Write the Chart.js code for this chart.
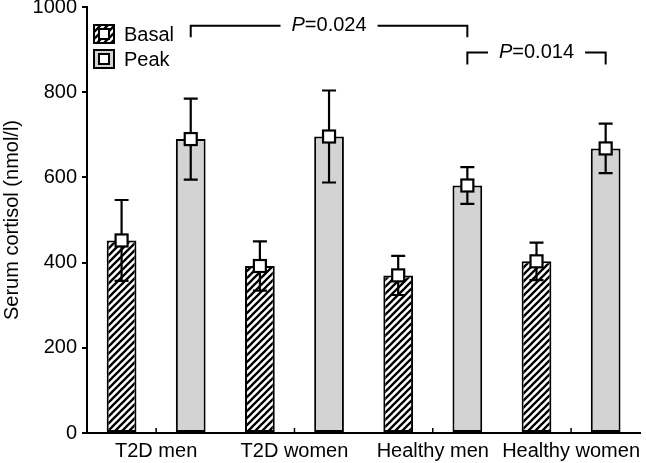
<!DOCTYPE html>
<html lang="en">
<head>
<meta charset="UTF-8" />
<title>Serum cortisol</title>
<script src="https://cdn.jsdelivr.net/npm/chart.js"></script>
<style>
  body { margin: 0; background: #fff; }
  #wrap { width: 646px; height: 463px; }
</style>
</head>
<body>
<div id="wrap"><canvas id="chart"></canvas></div>
<script>
const groups = ['T2D men', 'T2D women', 'Healthy men', 'Healthy women'];
const basalMean = [452, 392, 370, 403];
const basalErr = [95, 58, 46, 44];
const peakMean = [690, 696, 581, 668];
const peakErr = [95, 108, 43, 58];
const yTicks = [0, 200, 400, 600, 800, 1000];
// significance brackets between peak bars (dataset 1), by group index
const bracketFrom = [0, 2];
const bracketTo = [2, 3];
const bracketP = ['0.024', '0.014'];
const bracketLevel = [956, 893];
const bracketLow = [929, 865];

const FONT = '"Liberation Sans", Arial, Helvetica, sans-serif';
const canvas = document.getElementById('chart');
const ctx = canvas.getContext('2d');

// diagonal hatch for the basal bars
function hatch() {
  const s = 7;
  const c = document.createElement('canvas');
  c.width = s; c.height = s;
  const g = c.getContext('2d');
  g.fillStyle = '#fff'; g.fillRect(0, 0, s, s);
  g.strokeStyle = '#000'; g.lineWidth = 2.3;
  g.beginPath();
  g.moveTo(-2, s + 2); g.lineTo(s + 2, -2);
  g.moveTo(-2, 2); g.lineTo(2, -2);
  g.moveTo(s - 2, s + 2); g.lineTo(s + 2, s - 2);
  g.stroke();
  return ctx.createPattern(c, 'repeat');
}
const hatchFill = hatch();
const peakGrey = '#d3d3d3';

function marker(g, x, y) {
  g.fillStyle = '#fff';
  g.strokeStyle = '#000';
  g.lineWidth = 2.2;
  g.fillRect(x - 6, y - 6, 12, 12);
  g.strokeRect(x - 6, y - 6, 12, 12);
}

const extras = {
  id: 'extras',
  afterDatasetsDraw(chart) {
    const g = chart.ctx;
    const y = chart.scales.y;
    const x = chart.scales.x;
    const area = chart.chartArea;
    g.save();
    // small inward ticks on the category axis
    g.strokeStyle = '#000'; g.lineWidth = 1.5;
    groups.forEach((_, i) => {
      const px = x.getPixelForValue(i);
      g.beginPath(); g.moveTo(px, area.bottom); g.lineTo(px, area.bottom - 5); g.stroke();
    });
    // error bars and square markers
    const sets = [[basalMean, basalErr], [peakMean, peakErr]];
    sets.forEach(([mean, err], d) => {
      const meta = chart.getDatasetMeta(d);
      meta.data.forEach((bar, i) => {
        const top = y.getPixelForValue(mean[i] + err[i]);
        const bot = y.getPixelForValue(mean[i] - err[i]);
        g.strokeStyle = '#000'; g.lineWidth = 2.2;
        g.beginPath();
        g.moveTo(bar.x, top); g.lineTo(bar.x, bot);
        g.moveTo(bar.x - 7, top); g.lineTo(bar.x + 7, top);
        g.moveTo(bar.x - 7, bot); g.lineTo(bar.x + 7, bot);
        g.stroke();
        marker(g, bar.x, y.getPixelForValue(mean[i]));
      });
    });
    // significance brackets
    const peakMeta = chart.getDatasetMeta(1);
    bracketP.forEach((p, k) => {
      const x1 = peakMeta.data[bracketFrom[k]].x;
      const x2 = peakMeta.data[bracketTo[k]].x;
      const yl = y.getPixelForValue(bracketLevel[k]);
      const yd = y.getPixelForValue(bracketLow[k]);
      g.font = 'italic 20px ' + FONT;
      const wP = g.measureText('P').width;
      g.font = '20px ' + FONT;
      const wR = g.measureText('=' + p).width;
      const w = wP + wR;
      const cx = (x1 + x2) / 2;
      const gap = 11;
      g.strokeStyle = '#000'; g.lineWidth = 2;
      g.beginPath();
      g.moveTo(x1, yd); g.lineTo(x1, yl); g.lineTo(cx - w / 2 - gap, yl);
      g.moveTo(cx + w / 2 + gap, yl); g.lineTo(x2, yl); g.lineTo(x2, yd);
      g.stroke();
      g.fillStyle = '#000';
      g.textBaseline = 'middle'; g.textAlign = 'left';
      g.font = 'italic 20px ' + FONT;
      g.fillText('P', cx - w / 2, yl);
      g.font = '20px ' + FONT;
      g.fillText('=' + p, cx - w / 2 + wP, yl);
    });
    // legend
    const lx = area.left + 7, ly = area.top + 18;
    [['Basal', hatchFill], ['Peak', peakGrey]].forEach(([name, fill], k) => {
      const by = ly + k * 25;
      g.fillStyle = fill;
      g.fillRect(lx, by, 20, 18);
      g.strokeStyle = '#000'; g.lineWidth = 2;
      g.strokeRect(lx, by, 20, 18);
      g.fillStyle = '#fff';
      g.fillRect(lx + 5, by + 4, 10, 10);
      g.strokeRect(lx + 5, by + 4, 10, 10);
      g.fillStyle = '#000';
      g.font = '20px ' + FONT;
      g.textBaseline = 'middle';
      g.fillText(name, lx + 30, by + 10);
    });
    g.restore();
  }
};

new Chart(ctx, {
  type: 'bar',
  data: {
    labels: groups,
    datasets: [
      { label: 'Basal', data: basalMean, backgroundColor: hatchFill, borderColor: '#000', borderWidth: 2, borderSkipped: false },
      { label: 'Peak', data: peakMean, backgroundColor: peakGrey, borderColor: '#000', borderWidth: 2, borderSkipped: false }
    ]
  },
  options: {
    responsive: true,
    maintainAspectRatio: false,
    animation: false,
    datasets: { bar: { categoryPercentage: 1.0, barPercentage: 0.43 } },
    layout: { padding: 0 },
    plugins: { legend: { display: false }, tooltip: { enabled: false } },
    scales: {
      x: {
        afterFit: s => { s.height = 30; },
        grid: { display: false, drawTicks: false },
        border: { color: '#000', width: 2 },
        ticks: { color: '#000', padding: 6, maxRotation: 0, minRotation: 0, autoSkip: false, font: { family: FONT, size: 20 } }
      },
      y: {
        min: 0, max: 1000,
        afterBuildTicks: s => { s.ticks = yTicks.map(v => ({ value: v })); },
        afterFit: s => { s.width = 87; s.paddingTop = 7; },
        grid: { drawOnChartArea: false, color: '#000', lineWidth: 2, tickLength: 5 },
        border: { color: '#000', width: 2 },
        ticks: { color: '#000', padding: 5, callback: v => String(v), font: { family: FONT, size: 20 } },
        title: { display: true, text: 'Serum cortisol (nmol/l)', color: '#000', padding: 0, font: { family: FONT, size: 20 } }
      }
    }
  },
  plugins: [extras]
});
</script>
</body>
</html>
